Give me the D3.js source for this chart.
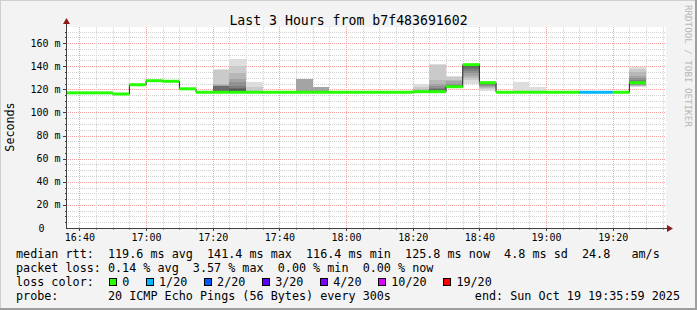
<!DOCTYPE html>
<html>
<head>
<meta charset="utf-8">
<script src="https://cdnjs.cloudflare.com/ajax/libs/d3/7.8.5/d3.min.js"></script>
<style>
  body { margin: 0; background: #f3f3f3; }
  svg { display: block; font-family: 'DejaVu Sans Mono', monospace; }
  text { white-space: pre; }
</style>
</head>
<body>
<div id="chart"></div>
<script>
// 5 minute bins (start time), median rtt in ms, lost pings out of 20
const binTimes = ['16:35','16:40','16:45','16:50','16:55','17:00','17:05','17:10','17:15','17:20',
    '17:25','17:30','17:35','17:40','17:45','17:50','17:55','18:00','18:05','18:10',
    '18:15','18:20','18:25','18:30','18:35','18:40','18:45','18:50','18:55','19:00',
    '19:05','19:10','19:15','19:20','19:25'];
const medianRtt = [117, 117, 117, 116, 124, 127.5, 127, 120.5, 117.5, 117.5,
    117.5, 117.5, 117.5, 117.5, 117.5, 117.5, 117.5, 117.5, 117.5, 117.5,
    117.5, 118, 118, 122.3, 141.4, 125.8, 117.5, 117.5, 117.5, 117.5,
    117.5, 117.5, 117.5, 117.5, 125.8];
const lostPings = [0, 0, 0, 0, 0, 0, 0, 0, 0, 0,
    0, 0, 0, 0, 0, 0, 0, 0, 0, 0,
    0, 0, 0, 0, 0, 0, 0, 0, 0, 0,
    0, 1, 1, 0, 0];

// sorted ping rtts (ms) for bins with visible smoke
const smokeTimes = ['17:20','17:25','17:30','17:45','17:50','18:20','18:25','18:30','18:35','18:40','18:50','18:55','19:25'];
const smokePings = [
    [117,117,117,117,118,118,118,118,118,118,118,118,119,123,123,123,124,125,137,137.5],
    [117,117,117,118,118,118,118,118,118,118,118,119,120,121,123,126,129,134,140,146],
    [117,117,117,117,117,117,117,117,118,118,118,118,118,118,118,118,118,119,122,126],
    [117,117,117,117,117,117,117,117,117,117,118,118,118,118,118,118,129,129,129,129],
    [117,117,117,117,117,117,117,117,117,117,118,118,118,118,118,118,122,122,122,122],
    [117,117,117,117,117,118,118,118,118,118,118,118,118,118,118,118,119,120,122,124.5],
    [117,117,117,118,118,118,118,118,118,118,118,119,119,120,121,123,125,128,141,142],
    [121,121,121,122,122,122,122,122,122,122,122.5,123,123,123,124,125,127,128,131,132],
    [125,128,130,132,134,136,138,139,140,141,141.5,141.5,141.5,141.5,141.5,141.5,142,142,142,142],
    [119,120,121,122,123,124,125,125,125.5,125.8,125.8,126,126,126,126,126,126,126,126,126],
    [117,117,117,117,117,117,117,117,117,118,118,118,118,118,118,118,118,118,119,126],
    [117,117,117,117,117,117,117,117,117,118,118,118,118,118,118,118,118,118,118,122],
    [122,122.5,123,123.5,124,124.5,125,125,125.5,125.8,125.8,126,126,127,128,130,132,135,138,139]
];

const lossLevels = ['0', '1/20', '2/20', '3/20', '4/20', '10/20', '19/20'];
const lossColors = ['#26ff00', '#00b8ff', '#0059ff', '#5e00ff', '#7e00ff', '#dd00ff', '#ff0000'];
const lossSteps = [0, 1, 2, 3, 4, 10, 19];

const yTicks = [0, 20, 40, 60, 80, 100, 120, 140, 160];

const legendLines = [
    'median rtt:  119.6 ms avg  141.4 ms max  116.4 ms min  125.8 ms now  4.8 ms sd  24.8   am/s',
    'packet loss: 0.14 % avg  3.57 % max  0.00 % min  0.00 % now',
    'loss color:',
    'probe:       20 ICMP Echo Pings (56 Bytes) every 300s'
];
const endText = 'end: Sun Oct 19 19:35:59 2025';
const title = 'Last 3 Hours from b7f483691602';

const W = 697, H = 310;
const plot = {left: 66, right: 666, top: 27, bottom: 228};
const cw = 7.08;

const parse = t => new Date('2025-10-19T' + t + ':00');
const start = new Date('2025-10-19T16:35:59');
const end = new Date('2025-10-19T19:35:59');

const x = d3.scaleTime().domain([start, end]).range([plot.left, plot.right]);
const y = d3.scaleLinear().domain([0, 174]).range([plot.bottom, plot.top]);

const bins = binTimes.map((t, i) => ({
    t0: parse(t),
    t1: d3.timeMinute.offset(parse(t), 5),
    median: medianRtt[i],
    loss: lostPings[i]
}));

const svg = d3.select('#chart').append('svg')
    .attr('width', W)
    .attr('height', H);

// frame
svg.append('rect').attr('width', W).attr('height', H).attr('fill', '#f3f3f3');
svg.append('path').attr('d', `M0,${H} V0 H${W}`).attr('stroke', '#cfcfcf').attr('stroke-width', 2).attr('fill', 'none');
svg.append('path').attr('d', `M0,${H - 1} H${W - 1} V0`).attr('stroke', '#9e9e9e').attr('stroke-width', 2).attr('fill', 'none');

svg.append('defs').append('clipPath').attr('id', 'clip')
    .append('rect')
    .attr('x', plot.left).attr('y', plot.top)
    .attr('width', plot.right - plot.left).attr('height', plot.bottom - plot.top);

svg.append('rect')
    .attr('x', plot.left).attr('y', plot.top)
    .attr('width', plot.right - plot.left).attr('height', plot.bottom - plot.top)
    .attr('fill', '#ffffff');

// grid
const grid = svg.append('g').attr('stroke-dasharray', '1,1').attr('shape-rendering', 'crispEdges');
const hLines = d3.range(5, 174, 5);
grid.selectAll('.hgrid')
    .data(hLines)
    .enter()
    .append('line')
        .attr('x1', plot.left).attr('x2', plot.right)
        .attr('y1', d => Math.round(y(d)) + 0.5).attr('y2', d => Math.round(y(d)) + 0.5)
        .attr('stroke', d => d % 20 == 0 ? '#f6a0a0' : '#d2d2d2');
const vLines = d3.timeMinute.every(5).range(d3.timeMinute.offset(start, 1), end);
grid.selectAll('.vgrid')
    .data(vLines)
    .enter()
    .append('line')
        .attr('x1', d => Math.round(x(d)) + 0.5).attr('x2', d => Math.round(x(d)) + 0.5)
        .attr('y1', plot.top).attr('y2', plot.bottom)
        .attr('stroke', d => d.getMinutes() % 20 == 0 ? '#f6a0a0' : '#d2d2d2');

// smoke
const graph = svg.append('g').attr('clip-path', 'url(#clip)');
smokeTimes.forEach((t, i) => {
    const pings = smokePings[i];
    const n = pings.length;
    const half = n / 2;
    const t0 = parse(t);
    const t1 = d3.timeMinute.offset(t0, 5);
    for (let ibot = 1; ibot <= half; ibot++) {
        const lo = pings[ibot - 1];
        const hi = pings[n - ibot];
        if (hi <= lo) continue;
        const c = Math.floor(190 / half * (half - ibot)) + 50;
        graph.append('rect')
            .attr('x', x(t0))
            .attr('width', x(t1) - x(t0))
            .attr('y', y(hi))
            .attr('height', y(lo) - y(hi))
            .attr('fill', d3.rgb(c, c, c))
            .attr('shape-rendering', 'crispEdges');
    }
});

// median line
const stepPoints = bins.map(b => [x(b.t0), y(b.median)]);
const last = bins[bins.length - 1];
stepPoints.push([x(last.t1), y(last.median)]);
graph.append('path')
    .attr('d', d3.line().curve(d3.curveStepAfter)(stepPoints))
    .attr('fill', 'none')
    .attr('stroke', '#202020')
    .attr('stroke-width', 1);

function lossColor(loss) {
    let idx = 0;
    lossSteps.forEach((s, i) => { if (loss >= s) idx = i; });
    return lossColors[idx];
}

graph.selectAll('.med')
    .data(bins)
    .enter()
    .append('line')
        .attr('x1', d => x(d.t0))
        .attr('x2', d => x(d.t1))
        .attr('y1', d => y(d.median))
        .attr('y2', d => y(d.median))
        .attr('stroke', d => lossColor(d.loss))
        .attr('stroke-width', 3);

// axes
const axisColor = '#404040';
svg.append('line')
    .attr('x1', plot.left + 0.5).attr('x2', plot.left + 0.5)
    .attr('y1', plot.bottom + 0.5).attr('y2', plot.top - 4)
    .attr('stroke', axisColor);
svg.append('line')
    .attr('x1', plot.left).attr('x2', plot.right + 1)
    .attr('y1', plot.bottom + 0.5).attr('y2', plot.bottom + 0.5)
    .attr('stroke', axisColor);
svg.append('path')
    .attr('d', `M${plot.left - 3},${plot.top - 3} L${plot.left + 0.5},${plot.top - 9} L${plot.left + 4},${plot.top - 3} Z`)
    .attr('fill', '#8b1a1a');
svg.append('path')
    .attr('d', `M${plot.right + 1},${plot.bottom - 3} L${plot.right + 7},${plot.bottom + 0.5} L${plot.right + 1},${plot.bottom + 4} Z`)
    .attr('fill', '#8b1a1a');

// axis ticks
svg.append('g').selectAll('line')
    .data(hLines)
    .enter()
    .append('line')
        .attr('x1', d => d % 20 == 0 ? plot.left - 3 : plot.left - 1)
        .attr('x2', plot.left)
        .attr('y1', d => Math.round(y(d)) + 0.5).attr('y2', d => Math.round(y(d)) + 0.5)
        .attr('stroke', axisColor);
svg.append('g').selectAll('line')
    .data(vLines)
    .enter()
    .append('line')
        .attr('x1', d => Math.round(x(d)) + 0.5).attr('x2', d => Math.round(x(d)) + 0.5)
        .attr('y1', plot.bottom)
        .attr('y2', d => d.getMinutes() % 20 == 0 ? plot.bottom + 3 : plot.bottom + 1.5)
        .attr('stroke', axisColor);

// tick labels
svg.append('g').selectAll('text')
    .data(yTicks)
    .enter()
    .append('text')
        .attr('x', d => d == 0 ? 44.5 : 60.5)
        .attr('y', d => y(d) + 3.6)
        .attr('text-anchor', 'end')
        .attr('font-size', '10px')
        .attr('fill', '#000')
        .text(d => d == 0 ? '0' : d + ' m');

const xTicks = vLines.filter(d => d.getMinutes() % 20 == 0);
svg.append('g').selectAll('text')
    .data(xTicks)
    .enter()
    .append('text')
        .attr('x', d => x(d) + 0.5)
        .attr('y', 241)
        .attr('text-anchor', 'middle')
        .attr('font-size', '10px')
        .attr('fill', '#000')
        .text(d3.timeFormat('%H:%M'));

// title, axis label, watermark
svg.append('text')
    .attr('x', W / 2).attr('y', 24.5)
    .attr('text-anchor', 'middle')
    .attr('font-size', '13.2px')
    .text(title);

svg.append('text')
    .attr('transform', 'translate(14,127) rotate(-90)')
    .attr('text-anchor', 'middle')
    .attr('font-size', '11.7px')
    .text('Seconds');

svg.append('text')
    .attr('transform', 'translate(685,5) rotate(90)')
    .attr('font-size', '9.2px')
    .attr('fill', '#b8b8b8')
    .text('RRDTOOL / TOBI OETIKER');

// legend
const legendY = [257.5, 271.5, 285.5, 299.5];
svg.append('g').selectAll('text')
    .data(legendLines)
    .enter()
    .append('text')
        .attr('x', 16)
        .attr('y', (d, i) => legendY[i])
        .attr('font-size', '11.76px')
        .text(d => d);

let col = 13;
lossLevels.forEach((lbl, i) => {
    svg.append('rect')
        .attr('x', Math.round(16 + col * cw + 1) + 0.5)
        .attr('y', 278.5)
        .attr('width', 7)
        .attr('height', 7)
        .attr('fill', lossColors[i])
        .attr('stroke', '#000');
    svg.append('text')
        .attr('x', 16 + (col + 2) * cw)
        .attr('y', legendY[2])
        .attr('font-size', '11.76px')
        .text(lbl);
    col += lbl.length + 4.2;
});

svg.append('text')
    .attr('x', 680)
    .attr('y', legendY[3])
    .attr('text-anchor', 'end')
    .attr('font-size', '11.76px')
    .text(endText);
</script>
</body>
</html>
